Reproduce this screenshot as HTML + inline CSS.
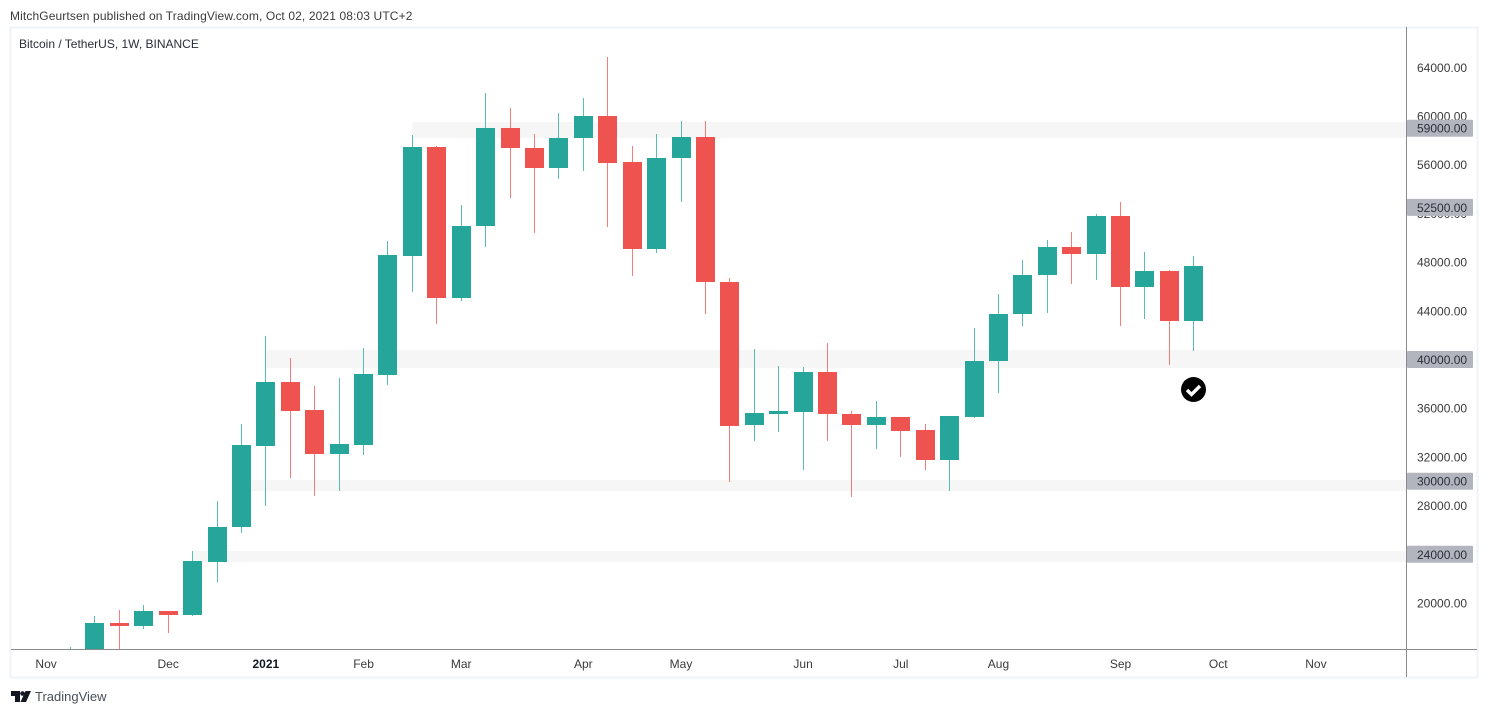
<!DOCTYPE html>
<html lang="en">
<head>
<meta charset="utf-8">
<title>Bitcoin / TetherUS, 1W, BINANCE</title>
<style>
html,body{margin:0;padding:0;background:#fff;width:1488px;height:714px;overflow:hidden}
svg{display:block;font-family:"Liberation Sans",Arial,sans-serif}
</style>
</head>
<body>
<svg id="chart" xmlns="http://www.w3.org/2000/svg" width="1488" height="714" viewBox="0 0 1488 714">
  <defs><clipPath id="plot-clip"><rect x="11" y="28" width="1395" height="621"/></clipPath></defs>
  <text x="10" y="20" font-size="12" letter-spacing="0.12" fill="#3a3a3a">MitchGeurtsen published on TradingView.com, Oct 02, 2021 08:03 UTC+2</text>
  <rect x="10.5" y="27.5" width="1467" height="650" fill="#fff" stroke="#f0f3fa" stroke-width="2"/>
  <g id="bands"></g>
  <g id="candles" clip-path="url(#plot-clip)"></g>
  <line x1="1406.5" y1="27" x2="1406.5" y2="677" stroke="#8a8a8a" stroke-width="1"/>
  <line x1="11" y1="649.5" x2="1477" y2="649.5" stroke="#8a8a8a" stroke-width="1"/>
  <g id="price-ticks"></g>
  <g id="price-marks"></g>
  <g id="time-ticks"></g>
  <text x="19" y="48" font-size="12" fill="#2a2e39">Bitcoin / TetherUS, 1W, BINANCE</text>
  <g>
    <circle cx="1193.5" cy="389.5" r="12.5" fill="#000"/>
    <path d="M1187 390 l4.5 4.5 l8.5 -8.5" fill="none" stroke="#fff" stroke-width="3.4"/>
  </g>
  <g>
    <path d="M11 691 H20 V702 H15 V696 H11 Z" fill="#131722"/>
    <circle cx="22.5" cy="693.5" r="2.3" fill="#131722"/>
    <path d="M25.5 691 H31 L26 702 H20.5 Z" fill="#131722"/>
    <text x="35" y="701" font-size="13" fill="#4a4e59">TradingView</text>
  </g>
</svg>
<script>
const opens  = [15500,15900,18357,18111,19342,19014,23368,26241,32895,38152,35852,32238,32977,38728,48502,57455,45052,50966,59016,57373,55730,58195,60002,56223,49077,56552,58277,46366,34621,35524,35688,38974,35524,34621,35278,34210,31745,35278,39877,43738,46941,49241,48666,51788,45956,47270,43163];
const closes = [15900,18357,18111,19342,19014,23450,26241,32977,38152,35770,32238,33060,38810,48584,57455,45052,50966,59016,57373,55730,58195,60002,56141,49077,56552,58277,46366,34539,35606,35770,38974,35524,34621,35278,34128,31745,35360,39877,43738,46941,49241,48666,51788,45956,47270,43163,47681];
const highs  = [16385,18932,19425,19835,19342,24269,28377,34703,41937,40124,37824,38481,40946,49734,58441,57538,52691,61891,60659,58523,60248,61480,64848,57538,58523,59591,59591,46695,40863,39467,39385,41356,35770,36592,35278,34703,35360,42588,45381,48174,49816,50473,51952,52938,48830,47352,48502];
const lows   = [15000,15900,16200,17864,17536,18932,21725,25748,27966,30267,28788,29199,32156,37906,45545,42916,44806,49241,53266,50391,54827,55484,50884,46859,48748,52938,43738,29938,33306,34046,30924,33306,28706,32649,31992,30924,29199,35196,37249,42752,43820,46202,46531,42752,43327,39549,40699];

const priceTicks = [64000,60000,56000,52000,48000,44000,40000,36000,32000,28000,24000,20000];
const markedPrices = [59000,52500,40000,30000,24000];

const bandStarts = [14,8,7,5];
const bandHighs  = [59509,40780,30103,24269];
const bandLows   = [58195,39300,29199,23368];

const timeLabels = ["Nov","Dec","2021","Feb","Mar","Apr","May","Jun","Jul","Aug","Sep","Oct","Nov"];
const timeIndexes = [-1,4,8,12,16,21,25,30,34,38,43,47,51];

const NS = "http://www.w3.org/2000/svg";
function xScale(i){ return 70.5 + i * 24.42; }
function yScale(p){ return 359.5 + (40000 - p) / 82.14; }
function make(tag, attrs, parent){
  const el = document.createElementNS(NS, tag);
  for (const k in attrs) el.setAttribute(k, attrs[k]);
  parent.appendChild(el);
  return el;
}

const bandsG = document.getElementById("bands");
bandStarts.forEach(function(s, i){
  const yTop = yScale(bandHighs[i]);
  const yBot = yScale(bandLows[i]);
  const r = make("rect", {x: xScale(s), y: yTop, width: 1406 - xScale(s), height: yBot - yTop, fill: "#f6f6f6"}, bandsG);
  
  
});

const candlesG = document.getElementById("candles");
opens.forEach(function(o, i){
  const c = closes[i];
  const up = c >= o;
  const color = up ? "#26a69a" : "#ef5350";
  const cx = Math.floor(xScale(i)) + 0.5;
  const g = make("g", {}, candlesG);
  
  
  const wick = make("line", {x1: cx, x2: cx, y1: yScale(highs[i]), y2: yScale(lows[i]), stroke: color, "stroke-width": 1, "stroke-opacity": 0.75}, g);
  
  
  const top = yScale(Math.max(o, c));
  const bot = yScale(Math.min(o, c));
  const body = make("rect", {x: cx - 9.5, y: top, width: 19, height: Math.max(bot - top, 1), fill: color}, g);
  
  
});

const ticksG = document.getElementById("price-ticks");
priceTicks.forEach(function(p){
  const t = make("text", {x: 1417, y: yScale(p) + 4.5, "font-size": 12, fill: "#3a3a3a"}, ticksG);
  
  
  t.textContent = p.toFixed(2);
});

const marksG = document.getElementById("price-marks");
markedPrices.forEach(function(p){
  const y = yScale(p);
  const r = make("rect", {x: 1407, y: y - 8.5, width: 66, height: 17, rx: 1, fill: "#b2b5be"}, marksG);
  
  
  const t = make("text", {x: 1417, y: y + 4.5, "font-size": 12, fill: "#2a2e39"}, marksG);
  
  
  t.textContent = p.toFixed(2);
});

const timeG = document.getElementById("time-ticks");
timeLabels.forEach(function(lab, i){
  const bold = lab === "2021";
  const t = make("text", {x: xScale(timeIndexes[i]), y: 668, "font-size": 12, "text-anchor": "middle", fill: bold ? "#131722" : "#3a3a3a", "font-weight": bold ? "700" : "400"}, timeG);
  
  
  t.textContent = lab;
});
</script>
</body>
</html>
